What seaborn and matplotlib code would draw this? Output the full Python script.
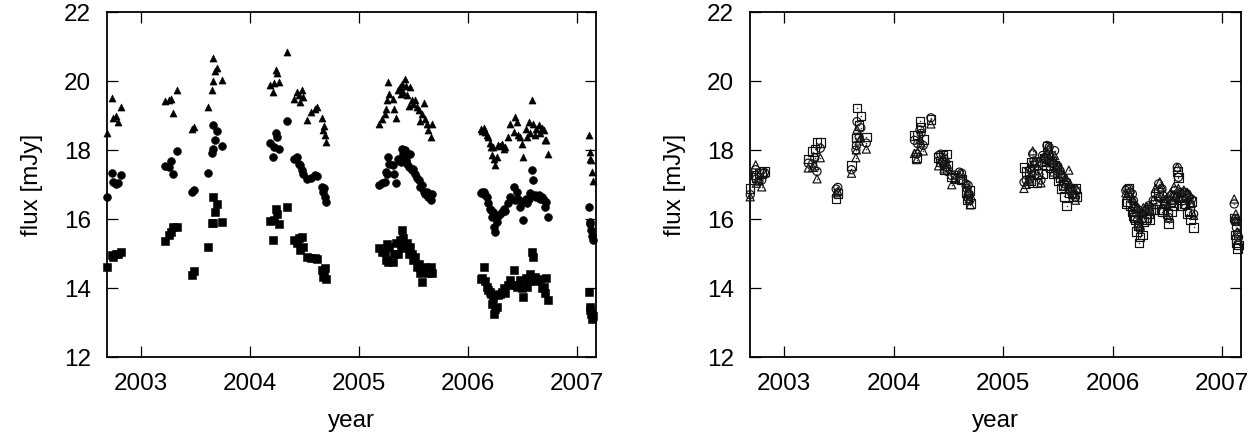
import matplotlib
matplotlib.use("Agg")
import matplotlib.pyplot as plt
import numpy as np
import pandas as pd
import seaborn as sns

sns.set_theme(style="ticks")
plt.rcParams['font.family'] = ['Liberation Sans', 'DejaVu Sans']
plt.rcParams['text.color'] = 'black'
plt.rcParams['axes.labelcolor'] = 'black'
plt.rcParams['xtick.color'] = 'black'
plt.rcParams['ytick.color'] = 'black'

# ---------------- data ----------------
dates = [
    2002.69, 2002.74, 2002.745, 2002.77, 2002.795, 2002.82,
    2003.22, 2003.26, 2003.28, 2003.30, 2003.33,
    2003.475, 2003.49,
    2003.615, 2003.655, 2003.66, 2003.665, 2003.685, 2003.70, 2003.75,
    2004.19, 2004.21, 2004.22, 2004.24, 2004.25, 2004.27, 2004.34, 2004.41, 2004.43, 2004.45,
    2004.46, 2004.48, 2004.49, 2004.53, 2004.56, 2004.60, 2004.62, 2004.66, 2004.67, 2004.68,
    2004.69, 2004.70,
    2005.19, 2005.21, 2005.24, 2005.25, 2005.26, 2005.27, 2005.28, 2005.31, 2005.32, 2005.345,
    2005.36, 2005.38, 2005.39, 2005.40, 2005.41, 2005.42, 2005.43, 2005.44, 2005.46, 2005.47,
    2005.49, 2005.50, 2005.52, 2005.53, 2005.55, 2005.56, 2005.58, 2005.60, 2005.61, 2005.63,
    2005.64, 2005.66, 2005.67,
    2006.12, 2006.13, 2006.15, 2006.16, 2006.18, 2006.19, 2006.20, 2006.21, 2006.22, 2006.23,
    2006.24, 2006.25, 2006.27, 2006.28, 2006.30, 2006.31, 2006.33, 2006.34, 2006.37, 2006.39,
    2006.42, 2006.43, 2006.45, 2006.46, 2006.48, 2006.50, 2006.51, 2006.53, 2006.54, 2006.56,
    2006.57, 2006.59, 2006.60, 2006.62, 2006.63, 2006.65, 2006.66, 2006.68, 2006.70, 2006.71,
    2006.72, 2006.74,
    2007.11, 2007.12, 2007.125, 2007.13, 2007.14, 2007.15,
]

flux_triangle = [
    18.50, 19.53, 18.94, 19.01, 18.82, 19.26,
    19.43, 19.45, 19.50, 19.08, 19.76,
    18.63, 18.68,
    19.26, 19.76, 20.01, 20.68, 20.30, 20.40, 20.04,
    19.90, 19.70, 19.95, 20.34, 20.24, 19.98, 20.85, 19.50, 19.70, 19.60,
    19.40, 19.74, 19.55, 18.89, 19.10, 19.20, 19.25, 18.95, 18.60, 18.70,
    18.43, 18.24,
    18.77, 18.90, 19.04, 19.20, 19.45, 19.98, 19.64, 19.50, 19.21, 18.95,
    19.74, 19.83, 19.64, 19.93, 19.70, 20.08, 19.88, 19.60, 19.30, 19.83,
    19.45, 19.35, 19.45, 19.26, 19.16, 18.85, 19.06, 19.36, 18.92, 18.77,
    18.58, 18.39, 18.77,
    18.63, 18.55, 18.65, 18.53, 18.45, 18.39, 18.20, 18.10, 17.85, 18.10,
    17.76, 17.57, 17.81, 18.15, 18.12, 18.19, 18.05, 18.10, 18.40, 18.77,
    18.53, 18.98, 18.82, 18.45, 18.39, 18.19, 17.81, 18.63, 18.40, 18.82,
    18.50, 19.45, 18.77, 18.45, 18.63, 18.72, 18.50, 18.65, 18.58, 18.29,
    18.30, 17.90,
    18.43, 17.75, 17.95, 17.71, 17.37, 17.10,
]

flux_circle = [
    16.63, 17.35, 17.08, 17.03, 17.05, 17.27,
    17.54, 17.52, 17.69, 17.30, 17.97,
    16.79, 16.84,
    17.35, 17.92, 18.05, 18.74, 18.29, 18.56, 18.12,
    18.20, 17.80, 18.10, 18.50, 18.40, 18.05, 18.85, 17.76, 17.80, 17.60,
    17.58, 17.42, 17.30, 17.18, 17.20, 17.28, 17.25, 16.94, 16.80, 16.90,
    16.64, 16.50,
    16.99, 17.05, 17.08, 17.37, 17.30, 17.81, 17.60, 17.56, 17.32, 17.05,
    17.76, 17.70, 17.66, 18.05, 17.90, 18.00, 17.71, 17.61, 17.52, 17.90,
    17.42, 17.45, 17.32, 17.20, 17.13, 16.94, 17.00, 16.80, 16.74, 16.79,
    16.65, 16.55, 16.74,
    16.75, 16.80, 16.80, 16.70, 16.65, 16.46, 16.30, 16.26, 16.07, 16.20,
    15.78, 15.63, 15.92, 16.10, 16.16, 16.20, 16.31, 16.25, 16.46, 16.65,
    16.94, 16.55, 16.80, 16.60, 16.36, 16.50, 15.97, 16.60, 16.46, 16.60,
    16.75, 17.42, 17.13, 16.70, 16.65, 16.70, 16.60, 16.65, 16.55, 16.36,
    16.50, 16.07,
    16.36, 15.92, 15.85, 15.68, 15.50, 15.40,
]

flux_square = [
    14.62, 14.96, 14.90, 15.00, 15.00, 15.05,
    15.37, 15.55, 15.62, 15.78, 15.78,
    14.38, 14.50,
    15.20, 15.89, 15.89, 16.65, 16.21, 16.45, 15.92,
    15.95, 15.41, 15.97, 16.31, 16.16, 15.85, 16.36, 15.41, 15.30, 15.45,
    15.10, 15.49, 15.20, 14.91, 14.88, 14.86, 14.85, 14.52, 14.33, 14.45,
    14.57, 14.25,
    15.15, 15.05, 15.05, 14.81, 15.29, 14.76, 15.20, 14.76, 15.00, 15.30,
    15.00, 15.39, 15.20, 15.68, 15.45, 15.29, 15.15, 15.30, 15.00, 15.20,
    15.00, 14.81, 14.90, 14.62, 14.70, 14.43, 14.18, 14.52, 14.62, 14.50,
    14.43, 14.62, 14.43,
    14.25, 14.30, 14.62, 14.20, 14.04, 13.95, 13.90, 13.84, 13.55, 13.70,
    13.26, 13.40, 13.46, 13.80, 13.84, 13.90, 13.99, 13.85, 14.10, 14.23,
    14.52, 14.10, 14.04, 14.10, 14.23, 14.00, 13.75, 14.30, 14.04, 14.20,
    14.42, 15.05, 14.90, 14.33, 14.20, 14.23, 14.25, 13.99, 14.04, 13.85,
    14.30, 13.65,
    13.88, 13.46, 13.36, 13.26, 13.11, 13.20,
]

# normalisation factors of the right panel (each light curve scaled to a common level)
norm_triangle = 0.90
norm_circle = 1.005
norm_square = 1.155

year_ticks = [2003, 2004, 2005, 2006, 2007]
flux_ticks = [12, 14, 16, 18, 20, 22]
x_label = "year"
y_label = "flux [mJy]"

# ---------------- table ----------------
df = pd.DataFrame({
    "year": dates,
    "tri": flux_triangle,
    "circ": flux_circle,
    "sq": flux_square,
})
df["tri_n"] = df["tri"] * norm_triangle
df["circ_n"] = df["circ"] * norm_circle
df["sq_n"] = df["sq"] * norm_square

# ---------------- figure ----------------
W, H = 1258, 436
fig = plt.figure(figsize=(W / 100, H / 100), dpi=100)
ax1 = fig.add_axes([106.7 / W, 1 - 357 / H, (595.5 - 106.7) / W, (357 - 12.5) / H])
ax2 = fig.add_axes([750.0 / W, 1 - 357 / H, (1241.0 - 750.0) / W, (357 - 12.5) / H])

# left: filled symbols
sns.scatterplot(data=df, x="year", y="tri", marker="^", s=26, color="black",
                edgecolor="black", linewidth=0.4, ax=ax1, clip_on=False, zorder=3)
sns.scatterplot(data=df, x="year", y="circ", marker="o", s=32, color="black",
                edgecolor="black", linewidth=0.4, ax=ax1, clip_on=False, zorder=3)
sns.scatterplot(data=df, x="year", y="sq", marker="s", s=28, color="black",
                edgecolor="black", linewidth=0.4, ax=ax1, clip_on=False, zorder=3)

# right: open symbols with a tiny centre dot
open_kw = dict(facecolors="none", edgecolor="#111111", linewidth=0.85, ax=ax2,
               clip_on=False, zorder=3)
sns.scatterplot(data=df, x="year", y="sq_n", marker="s", s=38, **open_kw)
sns.scatterplot(data=df, x="year", y="circ_n", marker="o", s=34, **open_kw)
sns.scatterplot(data=df, x="year", y="tri_n", marker="^", s=34, **open_kw)
for col in ("sq_n", "circ_n", "tri_n"):
    sns.scatterplot(data=df, x="year", y=col, marker="o", s=1.2, color="#333333",
                    linewidth=0, ax=ax2, clip_on=False, zorder=4)

for ax in (ax1, ax2):
    ax.set_xlim(2002.688, 2007.172)
    ax.set_ylim(12, 22)
    ax.set_xticks(year_ticks)
    ax.set_yticks(flux_ticks)
    ax.tick_params(direction="in", length=8, width=0.9, top=True, right=True,
                   labelsize=17.5, pad=11.5, colors="black")
    for sp in ax.spines.values():
        sp.set_visible(True)
        sp.set_linewidth(1.3)
        sp.set_color("black")
    ax.set_xlabel(x_label, fontsize=17.5, labelpad=11, color="black")
    ax.set_ylabel(y_label, fontsize=17.5, labelpad=15, color="black")
    ax.grid(False)
    ax.set_facecolor("white")

fig.savefig("out.png", dpi=100, facecolor="white")
